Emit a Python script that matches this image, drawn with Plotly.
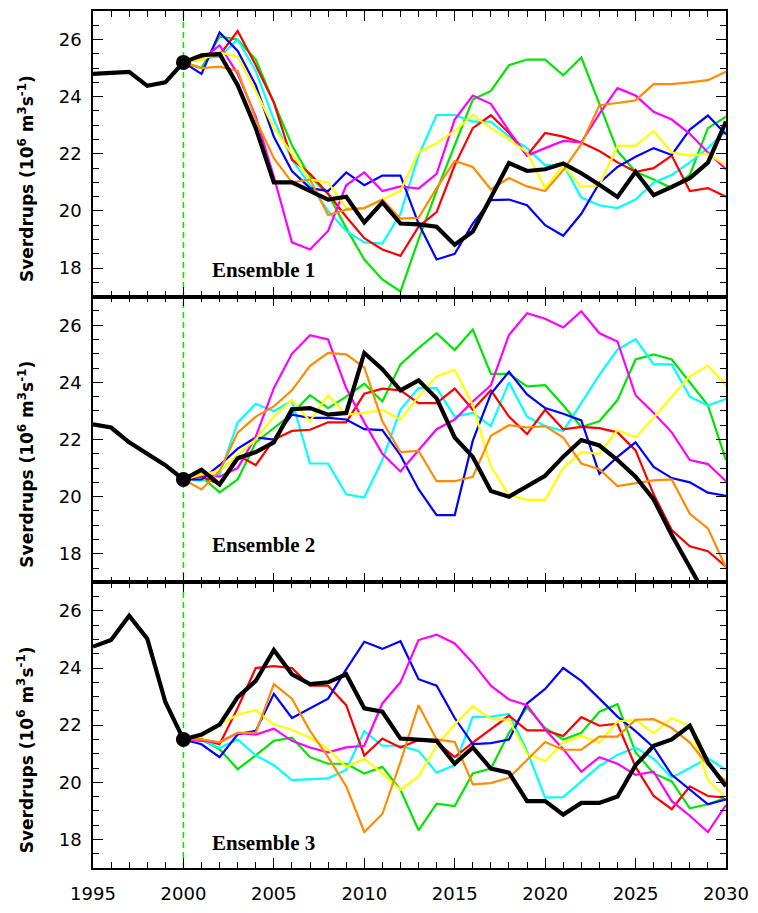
import plotly.graph_objects as go
from plotly.subplots import make_subplots

YEARS_HIST = [1995, 1996, 1997, 1998, 1999, 2000]
YEARS = list(range(2000, 2031))
X_TICKS = [1995, 2000, 2005, 2010, 2015, 2020, 2025, 2030]
Y_TICKS = [18, 20, 22, 24, 26]

# ---------------- Ensemble 1 ----------------
E1_HIST = [24.8, 24.85, 24.87, 24.38, 24.5, 25.2]
E1_BLACK = [25.2, 25.45, 25.5, 24.4, 22.9, 21.0, 21.0, 20.7, 20.4, 20.5, 19.6,
            20.3, 19.56, 19.53, 19.45, 18.82, 19.28, 20.47, 21.68, 21.4, 21.46,
            21.66, 21.32, 20.92, 20.49, 21.37, 20.55, 20.84, 21.15, 21.69, 23.13]
E1_RED = [25.2, 25.4, 25.45, 26.3, 25.1, 23.8, 21.8, 21.3, 20.6, 19.8, 19.05,
          18.65, 18.43, 19.45, 19.96, 21.6, 22.9, 23.35, 22.73, 21.94, 22.73,
          22.6, 22.4, 22.1, 21.7, 21.37, 21.5, 21.94, 20.7, 20.8, 20.5]
E1_BLUE = [25.2, 24.8, 26.25, 25.6, 24.4, 22.6, 21.4, 20.8, 20.7, 21.35, 20.9,
           21.24, 21.24, 19.56, 18.3, 18.5, 19.56, 20.38, 20.4, 20.2, 19.5,
           19.13, 19.9, 20.98, 21.54, 21.9, 22.2, 21.96, 22.85, 23.34, 22.68]
E1_GREEN = [25.2, 25.0, 26.1, 26.0, 25.3, 23.8, 22.3, 21.2, 20.6, 19.4, 18.3,
            17.6, 17.18, 19.0, 20.7, 22.3, 23.9, 24.2, 25.1, 25.3, 25.3,
            24.75, 25.37, 23.75, 22.1, 21.37, 21.1, 20.8, 21.26, 22.9, 23.3]
E1_CYAN = [25.2, 25.35, 25.4, 26.0, 24.9, 23.2, 21.8, 20.9, 20.0, 19.3, 18.9,
           18.86, 19.9, 21.94, 23.36, 23.36, 23.13, 23.13, 22.6, 22.2, 21.6,
           21.63, 20.47, 20.2, 20.1, 20.4, 21.0, 21.26, 21.7, 22.2, 22.8]
E1_MAGENTA = [25.2, 25.3, 25.8, 24.8, 23.3, 21.2, 18.9, 18.65, 19.3, 20.9, 21.35,
              20.7, 20.86, 20.78, 21.3, 23.2, 24.04, 23.75, 22.8, 21.94, 22.2,
              22.45, 22.4, 23.4, 24.3, 24.04, 23.47, 23.2, 22.7, 22.05, 21.46]
E1_YELLOW = [25.2, 25.3, 25.55, 25.4, 24.2, 22.9, 22.0, 21.1, 21.0, 20.1, 20.1,
             20.4, 20.7, 22.05, 22.37, 22.8, 23.36, 22.9, 22.5, 22.05, 20.8,
             21.6, 20.84, 20.9, 22.28, 22.28, 22.8, 22.05, 21.94, 22.0, 21.6]
E1_ORANGE = [25.2, 25.0, 25.05, 24.9, 23.2, 21.85, 21.0, 21.1, 19.85, 20.05, 20.1,
             20.4, 19.73, 19.76, 20.8, 21.75, 21.54, 20.75, 21.15, 20.86, 20.7,
             21.43, 22.34, 23.7, 23.78, 23.87, 24.44, 24.44, 24.5, 24.58, 24.87]

# ---------------- Ensemble 2 ----------------
E2_HIST = [22.53, 22.42, 21.9, 21.5, 21.1, 20.6]
E2_BLACK = [20.6, 20.94, 20.43, 21.34, 21.56, 21.9, 23.06, 23.1, 22.87, 22.93, 25.03,
            24.46, 23.72, 24.07, 23.44, 22.07, 21.39, 20.2, 20.0, 20.37, 20.73,
            21.4, 21.98, 21.79, 21.28, 20.7, 19.9, 18.66, 17.47, 16.4, 15.5]
E2_RED = [20.6, 20.7, 20.43, 21.45, 21.1, 22.0, 22.3, 22.34, 22.6, 22.6, 23.6,
          23.78, 23.72, 23.27, 23.27, 23.78, 23.04, 23.72, 22.8, 22.19, 23.04,
          22.36, 22.44, 22.4, 22.25, 21.62, 20.08, 18.83, 18.26, 18.09, 17.55]
E2_BLUE = [20.6, 20.6, 21.1, 21.68, 22.07, 22.0, 22.87, 22.76, 22.76, 22.7, 22.36,
           22.33, 21.45, 20.26, 19.35, 19.35, 21.96, 23.6, 24.37, 23.58, 23.1,
           22.9, 22.67, 20.8, 21.39, 21.9, 21.04, 20.65, 20.5, 20.14, 20.03]
E2_GREEN = [20.6, 20.7, 20.15, 20.6, 21.9, 22.4, 22.9, 23.55, 23.1, 23.5, 23.95,
            23.33, 24.63, 25.2, 25.72, 25.13, 25.85, 24.3, 24.3, 23.86, 23.9,
            23.2, 22.44, 22.64, 23.38, 24.8, 24.98, 24.8, 24.0, 23.2, 21.28]
E2_CYAN = [20.6, 20.56, 20.77, 22.59, 23.25, 22.99, 23.36, 21.16, 21.16, 20.08, 19.97,
           21.28, 23.04, 23.8, 23.8, 22.8, 22.93, 22.47, 24.0, 22.8, 22.47,
           22.3, 23.27, 24.26, 25.15, 25.51, 24.63, 24.63, 23.5, 23.19, 23.42]
E2_MAGENTA = [20.6, 20.77, 20.7, 21.0, 22.1, 23.8, 25.0, 25.65, 25.5, 23.8, 22.6,
              21.5, 20.88, 21.62, 22.36, 22.7, 23.33, 23.9, 25.66, 26.42, 26.23,
              25.92, 26.49, 25.72, 25.43, 23.55, 22.93, 22.25, 21.28, 21.14, 20.54]
E2_YELLOW = [20.6, 20.77, 20.9, 21.45, 22.0, 22.8, 23.38, 22.64, 23.55, 22.87, 22.93,
             23.04, 22.7, 23.5, 24.21, 24.44, 23.21, 21.05, 20.05, 19.89, 19.89,
             21.0, 21.56, 21.5, 22.33, 22.07, 22.76, 23.5, 24.21, 24.58, 23.9]
E2_ORANGE = [20.6, 20.25, 20.9, 22.24, 22.8, 23.16, 23.72, 24.58, 25.03, 24.98, 24.52,
             22.64, 21.56, 21.6, 20.54, 20.54, 20.69, 22.13, 22.5, 22.42, 22.47,
             22.07, 21.16, 20.96, 20.37, 20.48, 20.57, 20.6, 19.4, 18.89, 17.52]

# ---------------- Ensemble 3 ----------------
E3_HIST = [24.75, 24.98, 25.83, 25.03, 22.81, 21.5]
E3_BLACK = [21.5, 21.67, 22.02, 22.98, 23.55, 24.63, 23.78, 23.44, 23.5, 23.78, 22.59,
            22.47, 21.53, 21.5, 21.45, 20.65, 21.22, 20.48, 20.34, 19.34, 19.34,
            18.87, 19.28, 19.28, 19.5, 20.6, 21.28, 21.5, 21.98, 20.7, 19.86]
E3_RED = [21.5, 21.5, 21.33, 22.6, 24.0, 24.07, 24.0, 23.38, 23.38, 22.7, 20.94,
          21.53, 21.22, 21.48, 21.41, 20.88, 21.39, 21.87, 22.33, 21.82, 21.82,
          21.62, 22.28, 21.98, 22.05, 20.54, 19.52, 19.06, 19.86, 19.52, 19.46]
E3_BLUE = [21.5, 21.33, 20.88, 21.68, 21.8, 23.1, 22.25, 22.59, 22.93, 23.95, 24.92,
           24.67, 24.94, 23.61, 23.38, 22.25, 21.34, 21.37, 21.5, 22.76, 23.27,
           24.0, 23.55, 22.93, 22.3, 21.79, 21.22, 20.26, 19.74, 19.23, 19.4]
E3_GREEN = [21.5, 21.5, 21.16, 20.46, 20.94, 21.45, 21.56, 20.88, 20.65, 20.65, 20.31,
            20.54, 19.74, 18.32, 19.25, 19.17, 20.31, 20.48, 21.73, 22.62, 21.9,
            21.5, 21.73, 22.47, 22.73, 21.05, 20.31, 20.03, 19.09, 19.23, 19.46]
E3_CYAN = [21.5, 21.5, 21.2, 21.5, 20.94, 20.6, 20.08, 20.1, 20.14, 20.43, 21.79,
           21.28, 21.28, 21.1, 20.34, 20.6, 22.28, 22.3, 22.39, 21.1, 19.46,
           19.48, 20.03, 20.57, 20.96, 21.22, 20.82, 20.16, 20.5, 20.85, 20.43]
E3_MAGENTA = [21.5, 21.45, 21.4, 21.73, 21.67, 21.88, 21.45, 21.22, 21.05, 21.22, 21.28,
              22.76, 23.5, 24.98, 25.17, 24.86, 24.18, 23.38, 22.9, 22.7, 21.85,
              21.16, 20.37, 20.88, 20.65, 20.26, 20.37, 19.34, 18.83, 18.26, 19.2]
E3_YELLOW = [21.5, 21.6, 22.02, 22.36, 22.53, 22.02, 21.84, 21.56, 21.16, 20.54, 20.82,
             20.31, 19.74, 20.2, 21.28, 22.02, 22.67, 22.21, 22.19, 21.0, 20.74,
             21.39, 21.62, 21.39, 22.13, 22.19, 21.71, 22.25, 21.96, 20.08, 19.46]
E3_ORANGE = [21.5, 21.5, 21.4, 21.73, 21.73, 23.44, 22.93, 21.8, 20.88, 19.86, 18.26,
             18.89, 20.71, 22.7, 21.5, 21.41, 19.93, 19.97, 20.16, 20.77, 21.41,
             21.14, 21.14, 21.6, 21.6, 22.19, 22.21, 21.9, 21.39, 20.6, 20.03]

ENSEMBLE_LABELS = ["Ensemble 1", "Ensemble 2", "Ensemble 3"]
LABEL_POS_Y = [17.92, 18.32, 17.88]
LABEL_POS_X = 2004.45

COLORS = {"red": "#ff0000", "blue": "#0000ff", "green": "#00e600", "cyan": "#00ffff",
          "magenta": "#ff00ff", "yellow": "#ffff00", "orange": "#ff8c00", "black": "#000000"}

panels = [
    (E1_HIST, {"green": E1_GREEN, "cyan": E1_CYAN, "red": E1_RED, "blue": E1_BLUE,
               "magenta": E1_MAGENTA, "yellow": E1_YELLOW, "orange": E1_ORANGE}, E1_BLACK),
    (E2_HIST, {"green": E2_GREEN, "cyan": E2_CYAN, "red": E2_RED, "blue": E2_BLUE,
               "magenta": E2_MAGENTA, "yellow": E2_YELLOW, "orange": E2_ORANGE}, E2_BLACK),
    (E3_HIST, {"green": E3_GREEN, "cyan": E3_CYAN, "red": E3_RED, "blue": E3_BLUE,
               "magenta": E3_MAGENTA, "yellow": E3_YELLOW, "orange": E3_ORANGE}, E3_BLACK),
]

fig = make_subplots(rows=3, cols=1, vertical_spacing=0)

for i, (hist, members, black) in enumerate(panels):
    r = i + 1
    for name, vals in members.items():
        fig.add_trace(go.Scatter(x=YEARS, y=vals, mode="lines",
                                 line=dict(color=COLORS[name], width=2.2),
                                 showlegend=False, hoverinfo="skip"), row=r, col=1)
    fig.add_trace(go.Scatter(x=YEARS, y=black, mode="lines",
                             line=dict(color="black", width=4.2),
                             showlegend=False, hoverinfo="skip"), row=r, col=1)
    fig.add_trace(go.Scatter(x=YEARS_HIST, y=hist, mode="lines",
                             line=dict(color="black", width=4.2),
                             showlegend=False, hoverinfo="skip"), row=r, col=1)
    fig.add_trace(go.Scatter(x=[YEARS_HIST[-1]], y=[hist[-1]], mode="markers",
                             marker=dict(color="black", size=15, symbol="circle"),
                             showlegend=False, hoverinfo="skip", cliponaxis=False), row=r, col=1)

axis_common = dict(showline=True, linecolor="black", linewidth=1.6, mirror="ticks",
                   ticks="inside", tickcolor="black", tickwidth=1.4,
                   showgrid=False, zeroline=False)

for i in range(3):
    r = i + 1
    fig.update_xaxes(range=[1995, 2030], tickvals=X_TICKS, ticklen=10,
                     minor=dict(dtick=1, tick0=1995, ticks="inside", ticklen=6,
                                tickcolor="black", tickwidth=1.2, showgrid=False),
                     showticklabels=(r == 3),
                     tickfont=dict(family="DejaVu Sans", size=18, color="black"),
                     ticklabelstandoff=9,
                     **axis_common, row=r, col=1)
    fig.update_yaxes(range=[17, 27], tickvals=Y_TICKS, ticklen=10,
                     minor=dict(dtick=0.5, tick0=17, ticks="inside", ticklen=6,
                                tickcolor="black", tickwidth=1.2, showgrid=False),
                     tickfont=dict(family="DejaVu Sans", size=18, color="black"),
                     ticklabelstandoff=6,
                     **axis_common, row=r, col=1)

annotations = []
for i in range(3):
    yref = "y" if i == 0 else f"y{i+1}"
    annotations.append(dict(
        text="Sverdrups (10<sup>6</sup> m<sup>3</sup>s<sup>-1</sup>)",
        xref="paper", yref=f"{yref} domain", x=-0.106, y=0.415,
        xanchor="center", yanchor="middle", textangle=-90, showarrow=False,
        font=dict(family="DejaVu Sans", size=17, color="black", weight="bold")))
    annotations.append(dict(
        text=f"<b>{ENSEMBLE_LABELS[i]}</b>", xref="x" if i == 0 else f"x{i+1}",
        yref=yref, x=LABEL_POS_X, y=LABEL_POS_Y[i], showarrow=False,
        xanchor="center", yanchor="middle",
        font=dict(family="Liberation Serif", size=21, color="black")))

fig.update_layout(
    width=758, height=913,
    margin=dict(l=93, r=26, t=9, b=26),
    paper_bgcolor="white", plot_bgcolor="white",
    annotations=annotations,
    shapes=[dict(type="line", xref="x", yref="paper", x0=2000, x1=2000, y0=0, y1=1,
                 line=dict(color="#00e600", width=1.5, dash="6px,4px"), layer="below")],
)

fig.write_html("out.html")
